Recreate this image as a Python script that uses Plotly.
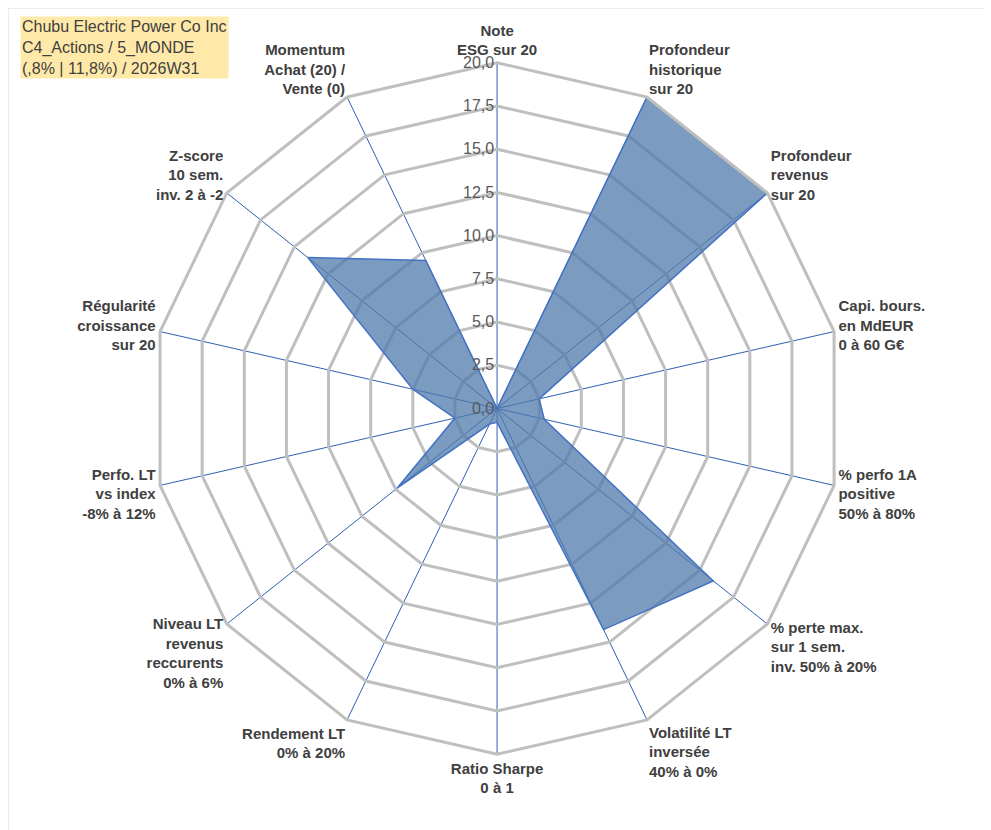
import plotly.graph_objects as go

categories = ["Note<br>ESG sur 20", "Profondeur<br>historique<br>sur 20", "Profondeur<br>revenus<br>sur 20",
              "Capi. bours.<br>en MdEUR<br>0 à 60 G€", "% perfo 1A<br>positive<br>50% à 80%",
              "% perte max.<br>sur 1 sem.<br>inv. 50% à 20%", "Volatilité LT<br>inversée<br>40% à 0%",
              "Ratio Sharpe<br>0 à 1", "Rendement LT<br>0% à 20%", "Niveau LT<br>revenus<br>reccurents<br>0% à 6%",
              "Perfo. LT<br>vs index<br>-8% à 12%", "Régularité<br>croissance<br>sur 20",
              "Z-score<br>10 sem.<br>inv. 2 à -2", "Momentum<br>Achat (20) /<br>Vente (0)"]
values = [0, 20, 20, 2.5, 2.8, 16, 14.2, 0.8, 1, 7.4, 2.5, 5, 14, 9.5]
title_text = "Chubu Electric Power Co Inc<br>C4_Actions / 5_MONDE<br>(,8% | 11,8%) / 2026W31"

fig = go.Figure()
fig.add_trace(go.Scatterpolar(
    r=values + values[:1], theta=categories + categories[:1], fill="toself",
    fillcolor="rgba(79,121,171,0.75)", line=dict(color="#4472C4", width=1.5),
    mode="lines", hoverinfo="skip"))

fig.update_layout(
    width=991, height=830, margin=dict(l=0, r=0, t=0, b=0),
    paper_bgcolor="white", showlegend=False, separators=",.",
    font=dict(family="Liberation Sans", color="#404040"),
    polar=dict(
        domain=dict(x=[0.144, 0.843], y=[0.101, 0.934]),
        gridshape="linear", bgcolor="white",
        angularaxis=dict(direction="clockwise", rotation=90, showline=True,
                         linecolor="#BFBFBF", linewidth=3,
                         gridcolor="#2F5FB3", gridwidth=1,
                         tickfont=dict(size=15, family="Liberation Sans", color="#404040"),
                         ticks=""),
        radialaxis=dict(range=[0, 20], dtick=2.5, tickformat=".1f", angle=90, tickangle=90,
                        showline=False, gridcolor="#BFBFBF", gridwidth=3,
                        tickfont=dict(size=16, color="#595959"), side="counterclockwise", ticks=""),
    ),
    annotations=[dict(text=title_text, x=0.012, y=0.99, xref="paper", yref="paper",
                      xanchor="left", yanchor="top", showarrow=False, align="left",
                      bgcolor="#FFE9A8", font=dict(size=16, color="#404040"))],
    shapes=[dict(type="rect", xref="paper", yref="paper", x0=0, y0=0, x1=1, y1=1,
                 line=dict(color="#D9D9D9", width=1))],
)
fig.update_polars(angularaxis_tickvals=categories,
                  angularaxis_ticktext=["<b>" + c + "</b>" for c in categories])
fig.write_html("out.html")
